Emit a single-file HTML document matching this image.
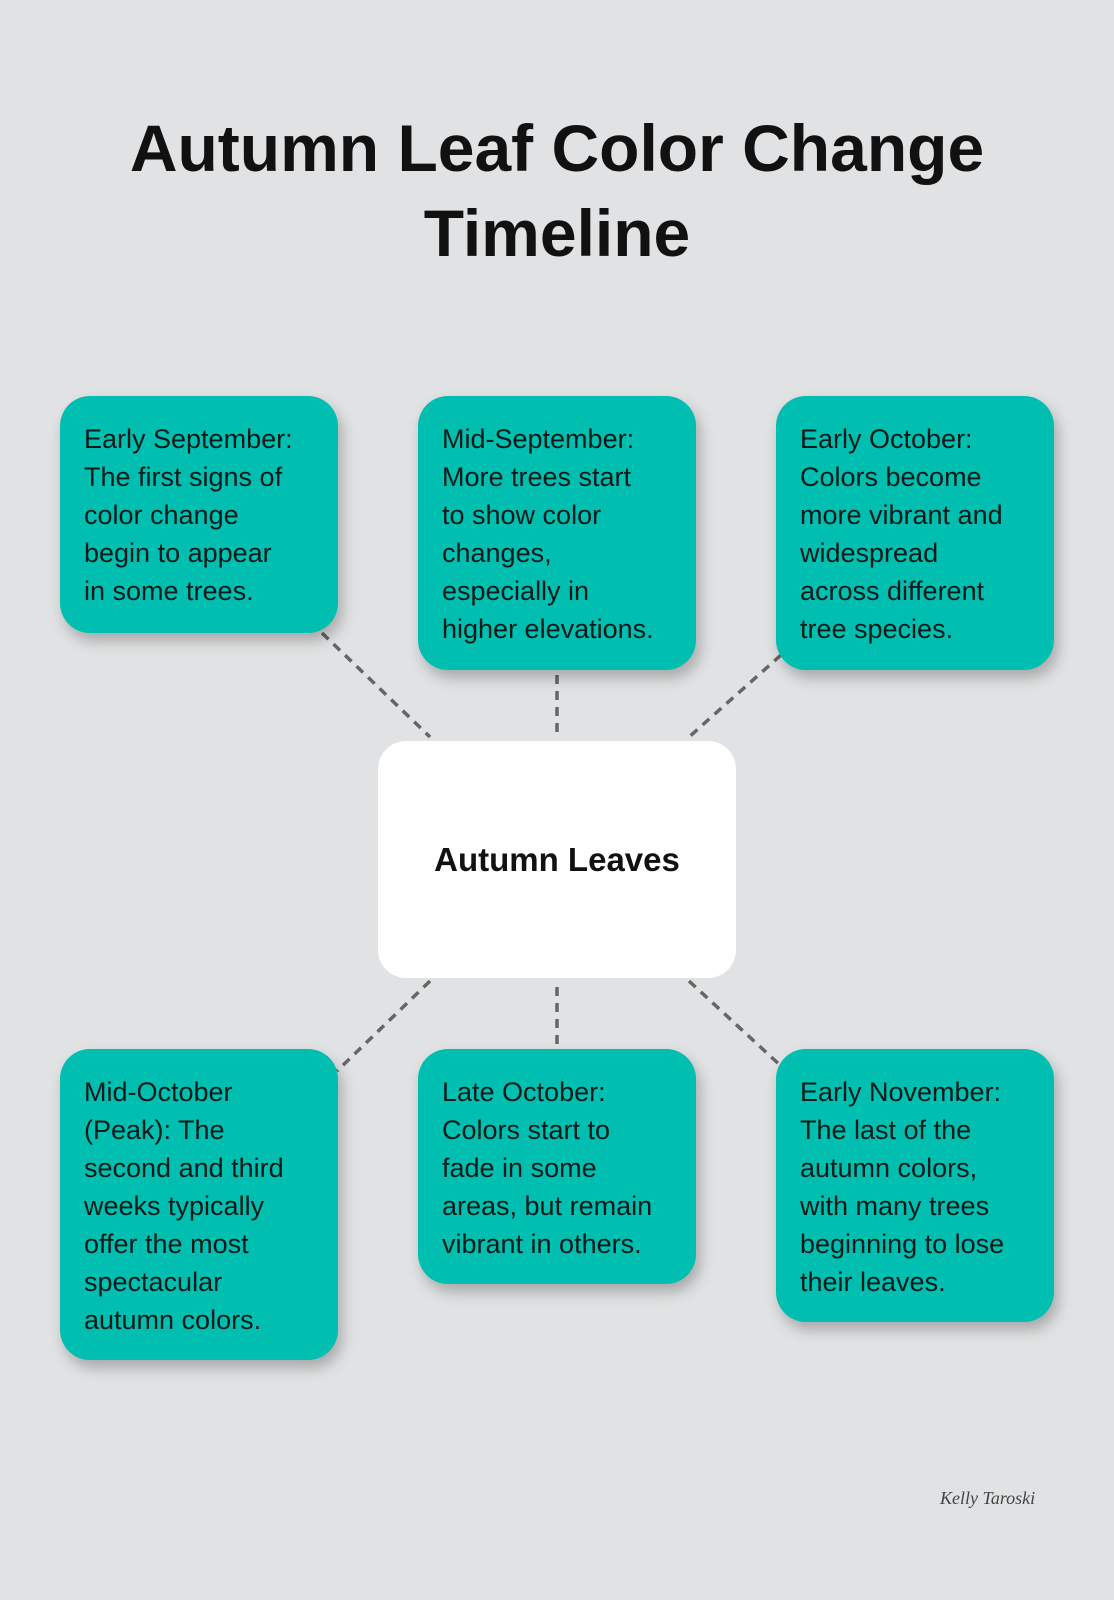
<!DOCTYPE html>
<html><head><meta charset="utf-8"><style>
body{margin:0;width:1114px;height:1600px;background:#e0e2e3;position:relative;font-family:"Liberation Sans",sans-serif;overflow:hidden}
h1{position:absolute;left:0;top:106px;width:1114px;text-align:center;margin:0;font-size:66px;line-height:85px;font-weight:bold;color:#111}
.b{position:absolute;background:#00bfb0;border-radius:30px;box-shadow:4px 8px 14px rgba(0,0,0,0.25);box-sizing:border-box;padding:24px 10px 0 24px;color:#0a1a19;font-size:27px;line-height:38px;width:278px;white-space:nowrap}
.c{position:absolute;left:378px;top:741px;width:358px;height:237px;background:#fff;border-radius:28px;display:flex;align-items:center;justify-content:center;font-weight:bold;font-size:33px;color:#111}
svg{position:absolute;left:0;top:0}
</style></head><body>
<h1>Autumn Leaf Color Change<br>Timeline</h1>
<svg width="1114" height="1600"><g stroke="#666" stroke-width="3.5" stroke-dasharray="9,7" fill="none">
<line x1="322" y1="633" x2="430" y2="737"/><line x1="557" y1="675" x2="557" y2="737"/><line x1="781" y1="655" x2="689" y2="737"/>
<line x1="430" y1="981" x2="337" y2="1071"/><line x1="557" y1="987" x2="557" y2="1045"/><line x1="689" y1="981" x2="781" y2="1066"/></g></svg>
<div class="b" style="left:60px;top:396px;height:237px">Early September:<br>The first signs of<br>color change<br>begin to appear<br>in some trees.</div>
<div class="b" style="left:418px;top:396px;height:274px">Mid-September:<br>More trees start<br>to show color<br>changes,<br>especially in<br>higher elevations.</div>
<div class="b" style="left:776px;top:396px;height:274px">Early October:<br>Colors become<br>more vibrant and<br>widespread<br>across different<br>tree species.</div>
<div class="c">Autumn Leaves</div>
<div class="b" style="left:60px;top:1049px;height:311px">Mid-October<br>(Peak): The<br>second and third<br>weeks typically<br>offer the most<br>spectacular<br>autumn colors.</div>
<div class="b" style="left:418px;top:1049px;height:235px">Late October:<br>Colors start to<br>fade in some<br>areas, but remain<br>vibrant in others.</div>
<div class="b" style="left:776px;top:1049px;height:273px">Early November:<br>The last of the<br>autumn colors,<br>with many trees<br>beginning to lose<br>their leaves.</div>
<div style="position:absolute;left:940px;top:1488px;font-family:'Liberation Serif',serif;font-style:italic;font-size:18px;color:#444">Kelly Taroski</div>
</body></html>
